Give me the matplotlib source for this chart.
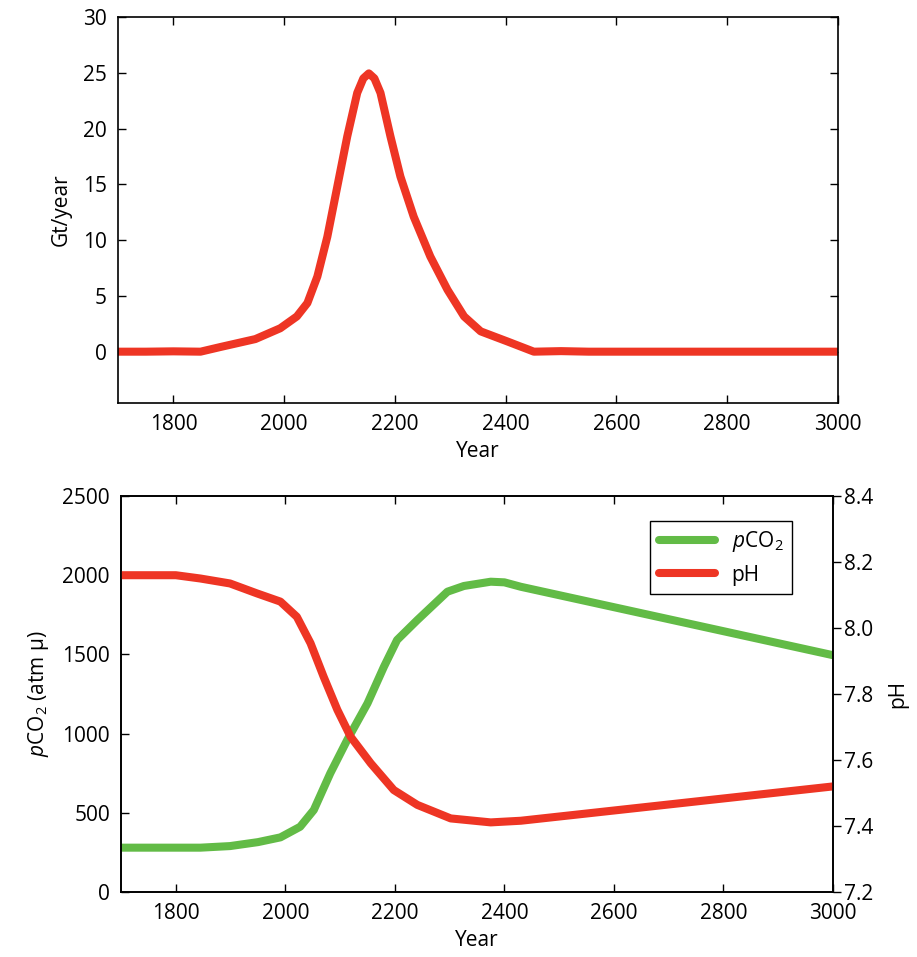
import matplotlib
matplotlib.use("Agg")
import matplotlib.pyplot as plt
from matplotlib.ticker import FormatStrFormatter

plt.rcParams['font.family'] = ['Open Sans', 'DejaVu Sans']
plt.rcParams['mathtext.fontset'] = 'custom'
plt.rcParams['mathtext.rm'] = 'Open Sans'
plt.rcParams['mathtext.it'] = 'Open Sans:italic'
plt.rcParams['font.size'] = 15

red = '#EE3524'
green = '#62BB46'

# emissions (Gt/year)
years_e = [1700, 1750, 1800, 1849, 1885, 1948, 1993, 2023, 2042, 2060, 2078, 2096,
           2114, 2132, 2143, 2153, 2163, 2174, 2192, 2210, 2234, 2264, 2295, 2325,
           2355, 2403, 2451, 2500, 2550, 3000]
emis = [0, 0, 0.03, 0, 0.42, 1.13, 2.1, 3.16, 4.36, 6.74, 10.3, 14.8,
        19.3, 23.2, 24.5, 24.95, 24.5, 23.2, 19.3, 15.7, 12.1, 8.53, 5.55, 3.16,
        1.82, 0.92, 0, 0.05, 0, 0]

# pCO2 (atm u)
years_c = [1700, 1800, 1845, 1899, 1950, 1991, 2027, 2052, 2082, 2113, 2150, 2180,
           2204, 2241, 2296, 2326, 2375, 2400, 2430, 3000]
pco2 = [280, 280, 280, 290, 315, 345, 412, 518, 749, 960, 1191, 1422,
        1591, 1717, 1896, 1932, 1959, 1955, 1927, 1495]

# pH
years_p = [1700, 1800, 1845, 1899, 1948, 1991, 2021, 2046, 2070, 2095, 2119, 2156,
           2198, 2241, 2302, 2375, 2430, 3000]
ph = [8.16, 8.16, 8.15, 8.135, 8.105, 8.08, 8.034, 7.954, 7.852, 7.752, 7.671, 7.59,
      7.509, 7.464, 7.423, 7.411, 7.416, 7.52]

lw = 5.8
fig = plt.figure(figsize=(9.17, 9.57), dpi=100)

# top panel
ax1 = fig.add_axes([0.1287, 0.5789, 0.785, 0.4033])
ax1.plot(years_e, emis, color=red, lw=lw, solid_capstyle='round', solid_joinstyle='round')
ax1.set_xlim(1700, 3000)
ax1.set_ylim(-4.6, 30)
ax1.set_xticks([1800, 2000, 2200, 2400, 2600, 2800, 3000])
ax1.set_yticks([0, 5, 10, 15, 20, 25, 30])
ax1.tick_params(direction='in', top=True, right=True, length=6, width=1, pad=8)
ax1.set_xlabel('Year', labelpad=4)
ax1.set_ylabel('Gt/year', labelpad=8)

# bottom panel
ax2 = fig.add_axes([0.132, 0.0679, 0.7764, 0.4138])
l1, = ax2.plot(years_c, pco2, color=green, lw=lw, solid_capstyle='round',
               solid_joinstyle='round', label=r'$p$CO$_2$')
ax2.set_xlim(1700, 3000)
ax2.set_ylim(0, 2500)
ax2.set_xticks([1800, 2000, 2200, 2400, 2600, 2800, 3000])
ax2.set_yticks([0, 500, 1000, 1500, 2000, 2500])
ax2.tick_params(direction='in', top=True, right=False, length=6, width=1, pad=8)
ax2.set_xlabel('Year', labelpad=4)
ax2.set_ylabel(r'$p$CO$_2$ (atm µ)', labelpad=8)

ax3 = ax2.twinx()
l2, = ax3.plot(years_p, ph, color=red, lw=lw, solid_capstyle='round',
               solid_joinstyle='round', label='pH')
ax3.set_ylim(7.2, 8.4)
ax3.set_yticks([7.2, 7.4, 7.6, 7.8, 8.0, 8.2, 8.4])
ax3.yaxis.set_major_formatter(FormatStrFormatter('%.1f'))
ax3.tick_params(direction='out', length=6, width=1, pad=2)
ax3.set_ylabel('pH', labelpad=10)

leg = ax3.legend(handles=[l1, l2], loc='upper right', bbox_to_anchor=(0.942, 0.937),
                 borderaxespad=0, fancybox=False, framealpha=1, edgecolor='black',
                 handlelength=2.7, fontsize=15)
leg.get_frame().set_linewidth(1)

for ax in (ax1, ax2, ax3):
    for s in ax.spines.values():
        s.set_linewidth(1.2)

fig.savefig('out.png', dpi=100)
